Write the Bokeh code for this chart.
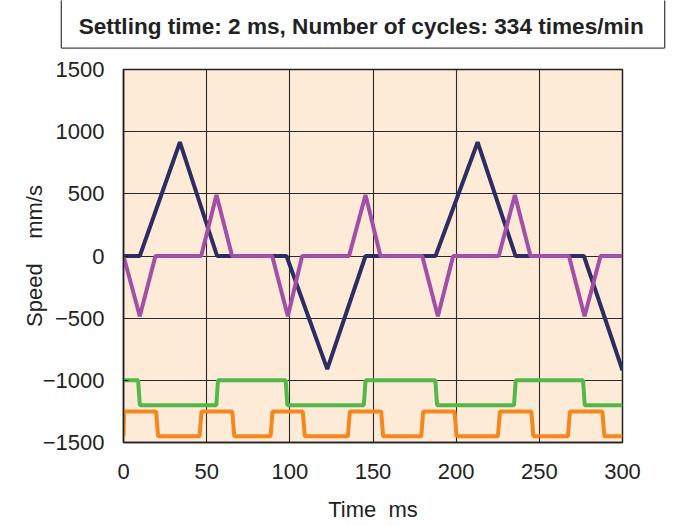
from bokeh.plotting import figure
from bokeh.layouts import column, row
from bokeh.models import FixedTicker, Range1d, Spacer
from bokeh.core.properties import value
from bokeh.embed import file_html
from bokeh.resources import INLINE

title_text = "Settling time: 2 ms, Number of cycles: 334 times/min"
x_label = "Time\u00a0 ms"
y_label = "Speed\u00a0\u00a0\u00a0 mm/s"

x_ticks = [0, 50, 100, 150, 200, 250, 300]
y_ticks = [-1500, -1000, -500, 0, 500, 1000, 1500]

navy_t = [0, 9.8, 33.9, 56.3, 98.0, 122.5, 145.5, 187.6, 212.9, 235.7, 276.8, 300]
navy_v = [0, 0, 915, 0, 0, -910, 0, 0, 915, 0, 0, -920]

purple_t = [0, 9.8, 19.2, 46.7, 55.9, 65.3, 89.4, 98.8, 107.4, 135.6, 145.5, 154.5,
            179.6, 189.0, 198.2, 225.6, 235.3, 244.7, 267.8, 277.2, 286.8, 300]
purple_v = [0, -485, 0, 0, 490, 0, 0, -485, 0, 0, 490, 0,
            0, -485, 0, 0, 490, 0, 0, -485, 0, 0]

green_t = [0, 8.8, 9.8, 55.8, 56.8, 97.5, 98.5, 144.5, 145.5, 187.5, 188.5,
           234.8, 235.8, 276.3, 277.3, 300]
green_v = [-1000, -1000, -1200, -1200, -1000, -1000, -1200, -1200, -1000, -1000, -1200,
           -1200, -1000, -1000, -1200, -1200]

orange_t = [0, 0.3, 19.6, 20.8, 45.7, 46.9, 65.4, 66.6, 88.4, 89.6, 107.8, 109.0,
            134.9, 136.1, 154.9, 156.1, 179.0, 180.2, 199.0, 200.2, 225.1, 226.3,
            245.2, 246.4, 267.2, 268.4, 287.9, 289.1, 300]
orange_v = [-1450, -1250, -1250, -1450, -1450, -1250, -1250, -1450, -1450, -1250, -1250, -1450,
            -1450, -1250, -1250, -1450, -1450, -1250, -1250, -1450, -1450, -1250,
            -1250, -1450, -1450, -1250, -1250, -1450, -1450]

FONT = "Liberation Sans"
INK = "#222222"

# ---- title box (its top edge lies above the page, as in the reference) ----
t = figure(width=607, height=49, output_backend="svg", toolbar_location=None,
           x_range=Range1d(-0.003, 1.003), y_range=Range1d(-0.03, 1.0),
           x_axis_type=None, y_axis_type=None,
           min_border_left=0, min_border_right=0, min_border_top=0, min_border_bottom=0)
t.grid.visible = False
t.outline_line_color = None
t.background_fill_color = "white"
t.border_fill_color = "white"
t.segment(x0=[0, 1, 0], y0=[0, 0, 0], x1=[0, 1, 1], y1=[2, 2, 0],
          line_color="#444444", line_width=1.3)
t.text(x=[0.497], y=[0.45], text=[title_text], text_font=value(FONT),
       text_font_style="bold", text_font_size="22.6px", text_color=INK,
       text_align="center", text_baseline="middle")

# ---- main chart ----
p = figure(width=672, height=475, output_backend="svg", toolbar_location=None,
           x_range=Range1d(0, 300), y_range=Range1d(-1500, 1500),
           min_border_left=123, min_border_right=50, min_border_top=20, min_border_bottom=79)

p.background_fill_color = "#fdebd8"
p.border_fill_color = "white"
p.outline_line_color = INK
p.outline_line_width = 1.5

for ax in (p.xaxis[0], p.yaxis[0]):
    ax.major_label_text_font = FONT
    ax.major_label_text_font_size = "22px"
    ax.major_label_text_color = INK
    ax.axis_label_text_font = FONT
    ax.axis_label_text_font_size = "22px"
    ax.axis_label_text_font_style = "normal"
    ax.axis_label_text_color = INK
    ax.axis_line_color = INK
    ax.axis_line_width = 1.5
    ax.major_tick_in = 5
    ax.major_tick_out = 0
    ax.major_tick_line_color = INK
    ax.minor_tick_line_color = None

p.xaxis.ticker = FixedTicker(ticks=x_ticks)
p.yaxis.ticker = FixedTicker(ticks=y_ticks)
p.yaxis.major_label_overrides = {v: (("\u2212" + str(-v)) if v < 0 else str(v)) for v in y_ticks}
p.xaxis.axis_label = x_label
p.yaxis.axis_label = y_label
p.xaxis.major_label_standoff = 21
p.yaxis.major_label_standoff = 19
p.xaxis.axis_label_standoff = 15
p.yaxis.axis_label_standoff = -7

p.xgrid.ticker = FixedTicker(ticks=x_ticks)
p.ygrid.ticker = FixedTicker(ticks=y_ticks)
p.grid.grid_line_color = "#2a2a2a"
p.grid.grid_line_width = 1.1
p.grid.grid_line_alpha = 1

p.line(green_t, green_v, line_color="#52b948", line_width=4)
p.line(orange_t, orange_v, line_color="#f5871f", line_width=4)
p.line(navy_t, navy_v, line_color="#2c2e63", line_width=4)
p.line(purple_t, purple_v, line_color="#a14fa7", line_width=4)

layout = column(row(Spacer(width=59, height=49), t, spacing=0), p, spacing=0)
open("out.html", "w").write(file_html(layout, INLINE))
